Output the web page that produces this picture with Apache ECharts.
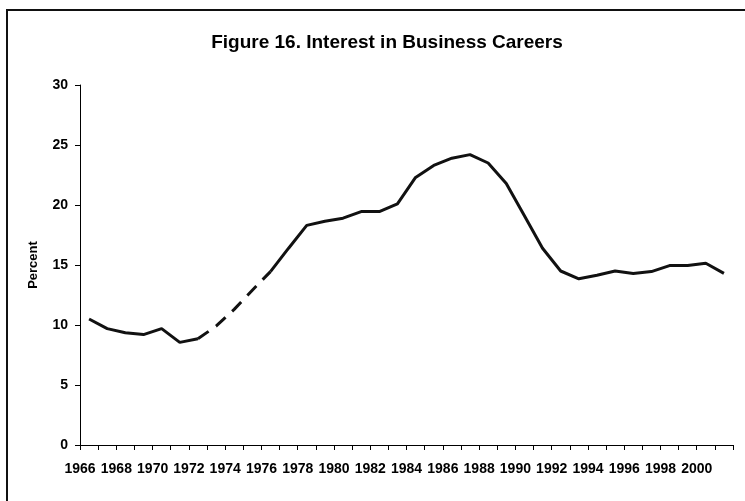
<!DOCTYPE html>
<html>
<head>
<meta charset="utf-8">
<script src="https://cdn.jsdelivr.net/npm/echarts@6/dist/echarts.min.js"></script>
<style>
  html, body { margin: 0; padding: 0; background: #fff; }
  #chart { width: 745px; height: 501px; }
</style>
</head>
<body>
<div id="chart"></div>
<script>
// years shown on the x axis
var years = [];
for (var y = 1966; y <= 2001; y++) years.push(String(y));

// percent of students interested in business careers
var interest = [
  10.5, 9.7, 9.35, 9.2, 9.7, 8.55, 8.85, 9.9, 11.3, 12.9,
  14.45, 16.4, 18.3, 18.65, 18.9, 19.45, 19.45, 20.1, 22.3, 23.3,
  23.9, 24.2, 23.5, 21.8, 19.1, 16.4, 14.5, 13.85, 14.15, 14.5,
  14.3, 14.45, 14.95, 14.95, 15.15, 14.3
];

// years joined by a dashed line (no survey data in between)
var gapStart = "1972";
var gapEnd = "1976";

var yTicks = [0, 5, 10, 15, 20, 25, 30];

var i0 = years.indexOf(gapStart);
var i1 = years.indexOf(gapEnd);
var solidData = interest.map(function (v, i) {
  return (i > i0 && i < i1) ? null : v;
});
var dashedData = interest.map(function (v, i) {
  return (i >= i0 && i <= i1) ? v : null;
});

var chart = echarts.init(document.getElementById("chart"));
var font = "'Liberation Sans', Arial, sans-serif";

var option = {
  backgroundColor: "#fff",
  animation: false,
  title: {
    text: "Figure 16. Interest in Business Careers",
    left: 382,
    textAlign: "center",
    top: 28,
    textStyle: { fontFamily: font, fontSize: 19, fontWeight: "bold", color: "#000" }
  },
  graphic: [{
    type: "polyline",
    shape: { points: [[7, 501], [7, 10], [745, 10]] },
    style: { stroke: "#111", lineWidth: 2, fill: null }
  }],
  grid: { left: 80, right: 12, top: 85, bottom: 56 },
  xAxis: {
    type: "category",
    data: years,
    boundaryGap: true,
    axisLine: { lineStyle: { color: "#000", width: 1 } },
    axisTick: { show: true, interval: 0, length: 5, inside: false, lineStyle: { color: "#000" } },
    axisLabel: {
      interval: 1,
      margin: 17,
      padding: [0, 18, 0, 0],
      fontFamily: font, fontSize: 14, fontWeight: "bold", color: "#000"
    },
    splitLine: { show: false }
  },
  yAxis: {
    type: "value",
    min: yTicks[0],
    max: yTicks[yTicks.length - 1],
    interval: 5,
    name: "Percent",
    nameLocation: "middle",
    nameRotate: 90,
    nameGap: 40,
    nameTextStyle: { fontFamily: font, fontSize: 13, fontWeight: "bold", color: "#000" },
    axisLine: { show: true, lineStyle: { color: "#000", width: 1 } },
    axisTick: { show: true, length: 5, lineStyle: { color: "#000" } },
    axisLabel: { margin: 12, fontFamily: font, fontSize: 14, fontWeight: "bold", color: "#000" },
    splitLine: { show: false }
  },
  series: [
    {
      name: "Interest",
      type: "line",
      data: solidData,
      connectNulls: false,
      showSymbol: false,
      lineStyle: { color: "#111", width: 3 }
    },
    {
      name: "Interest (interpolated)",
      type: "line",
      data: dashedData,
      connectNulls: false,
      showSymbol: false,
      lineStyle: { color: "#111", width: 3, type: [13, 9] }
    }
  ]
};

chart.setOption(option);
</script>
</body>
</html>
